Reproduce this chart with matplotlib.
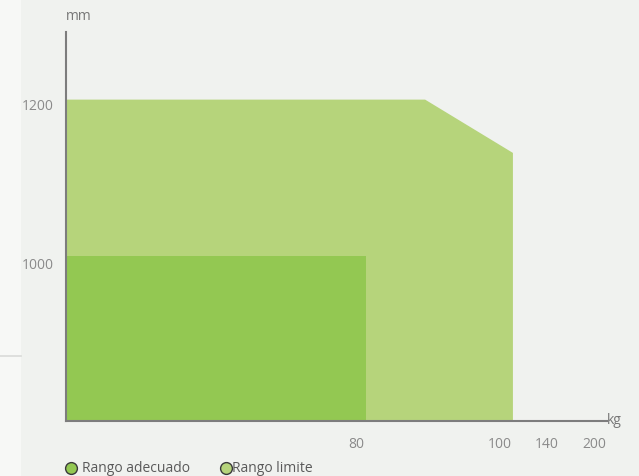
import numpy as np
import matplotlib
matplotlib.use("Agg")
import matplotlib.pyplot as plt
from matplotlib.patches import Rectangle
from matplotlib.lines import Line2D

# Data (kg on x, mm on y)
adequate_x = [0, 0, 81.4, 81.4]
adequate_y = [801, 1008, 1008, 801]
limit_x = [0, 0, 89.6, 111, 111]
limit_y = [801, 1205, 1205, 1138, 801]
x_ticks = [80, 100, 140, 200]
y_ticks = [1000, 1200]
legend_labels = ["Rango adecuado", "Rango limite"]

# non-linear x axis (as drawn in the reference)
kg_knots = [0, 80, 100, 140, 200, 216.6]
pos_knots = [0, 290, 434, 481, 528, 541]

def fwd(x):
    return np.interp(x, kg_knots, pos_knots)

def inv(p):
    return np.interp(p, pos_knots, kg_knots)

W, H = 639, 477
bg = "#f0f2ef"
fig = plt.figure(figsize=(W / 100, H / 100), dpi=100, facecolor=bg)

# left lighter strip with thin line
fig.patches.append(Rectangle((0, 0), 21 / W, 1, transform=fig.transFigure,
                             facecolor="#f7f8f6", edgecolor="none", zorder=0))
fig.lines.append(Line2D([0, 21 / W], [1 - 357 / H] * 2, transform=fig.transFigure,
                        color="#d9dad8", lw=1.2))

ax = fig.add_axes([66 / W, (H - 422) / H, 541 / W, 389 / H])
ax.set_facecolor("none")
ax.set_xscale("function", functions=(fwd, inv))
ax.set_xlim(0, 216.6)
ax.set_ylim(801, 1290)

light = "#b6d47b"
dark = "#93c852"
ax.fill(limit_x, limit_y, color=light, lw=0, zorder=1)
ax.fill(adequate_x, adequate_y, color=dark, lw=0, zorder=2)

for s in ["top", "right"]:
    ax.spines[s].set_visible(False)
for s in ["left", "bottom"]:
    ax.spines[s].set_color("#7d7d7d")
    ax.spines[s].set_linewidth(1.5)
    ax.spines[s].set_zorder(3)

font = "Open Sans"
tcol = "#8a8a8a"
fs = 10
ax.set_xticks(x_ticks)
ax.set_xticklabels([str(v) for v in x_ticks], fontname=font, fontsize=fs, color=tcol)
ax.set_yticks(y_ticks)
ax.set_yticklabels([str(v) for v in y_ticks], fontname=font, fontsize=fs, color=tcol)
ax.tick_params(axis="both", length=0)
ax.tick_params(axis="x", pad=11)
ax.tick_params(axis="y", pad=9)
ax.xaxis.set_minor_locator(matplotlib.ticker.NullLocator())

fig.text(66 / W, 1 - 16 / H, "mm", fontname=font, fontsize=fs, color="#777777",
         ha="left", va="center")
fig.text(607 / W, 1 - 421 / H, "kg", fontname=font, fontsize=fs, color="#777777",
         ha="left", va="center")

# legend
ly = 1 - 469 / H
for cx, tx, col, lab in [(71, 82, dark, legend_labels[0]), (226, 232, light, legend_labels[1])]:
    fig.lines.append(Line2D([cx / W], [ly], transform=fig.transFigure, marker="o",
                            markersize=8.5, markerfacecolor=col, markeredgecolor="#3a3a3a",
                            markeredgewidth=1.0, linestyle="none"))
    fig.text(tx / W, ly, lab, fontname=font, fontsize=fs, color="#5a5a5a",
             ha="left", va="center")

fig.savefig("out.png", dpi=100, facecolor=bg)
